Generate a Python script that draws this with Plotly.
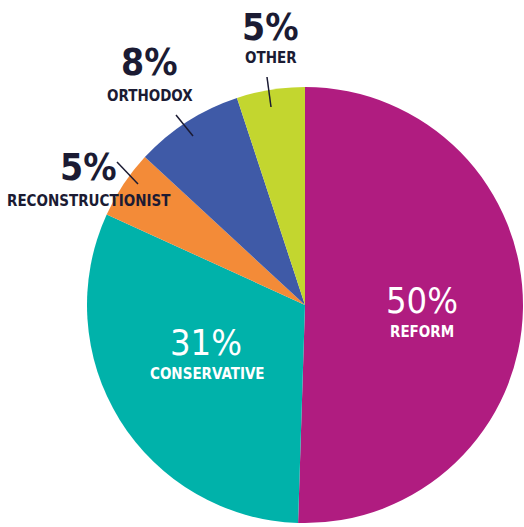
import plotly.graph_objects as go

categories = ["REFORM", "CONSERVATIVE", "RECONSTRUCTIONIST", "ORTHODOX", "OTHER"]
values = [50, 31, 5, 8, 5]
colors = ["#B01C80", "#00B2AA", "#F38B38", "#3F5AA7", "#C3D62F"]

W, H = 524, 527
cx, cy, r = 305, 305, 218

fig = go.Figure(go.Pie(
    labels=categories, values=values, sort=False, direction="clockwise", rotation=0,
    marker=dict(colors=colors, line=dict(width=0)),
    textinfo="none", hoverinfo="label+value", showlegend=False,
    domain=dict(x=[(cx - r) / W, (cx + r) / W], y=[1 - (cy + r) / H, 1 - (cy - r) / H]),
))

FONT = "DejaVu Sans Condensed, Liberation Sans Narrow, sans-serif"
dark = "#1B1B33"

label_pos = {
    "REFORM": ((422, 300), (422, 332), "white"),
    "CONSERVATIVE": ((206, 342), (207, 374), "white"),
    "RECONSTRUCTIONIST": ((88, 167), (89, 201), dark),
    "ORTHODOX": ((149, 63), (150, 96), dark),
    "OTHER": ((270, 27), (271, 58), dark),
}

anns = []
for cat, val in zip(categories, values):
    (px, py), (nx, ny), col = label_pos[cat]
    anns.append(dict(x=px / W, y=1 - py / H, xref="paper", yref="paper", showarrow=False,
                     text=(f"{val}%" if col == "white" else f"<b>{val}%</b>"),
                     font=dict(family=FONT, size=(36 if col == "white" else 37), color=col),
                     xanchor="center", yanchor="middle"))
    anns.append(dict(x=nx / W, y=1 - ny / H, xref="paper", yref="paper", showarrow=False,
                     text=f"<b>{cat}</b>", font=dict(family=FONT, size=15, color=col),
                     xanchor="center", yanchor="middle"))

leaders = [((117, 162), (138, 184)), ((176, 115), (193, 136)), ((267, 77), (271, 107))]
shapes = [dict(type="line", xref="paper", yref="paper", x0=a[0] / W, y0=1 - a[1] / H,
               x1=b[0] / W, y1=1 - b[1] / H, line=dict(color=dark, width=1.5))
          for a, b in leaders]

fig.update_layout(width=W, height=H, margin=dict(l=0, r=0, t=0, b=0),
                  paper_bgcolor="white", plot_bgcolor="white",
                  annotations=anns, shapes=shapes)
fig.write_html("out.html", config={"displayModeBar": False},
               post_script="document.body.style.margin='0';")
